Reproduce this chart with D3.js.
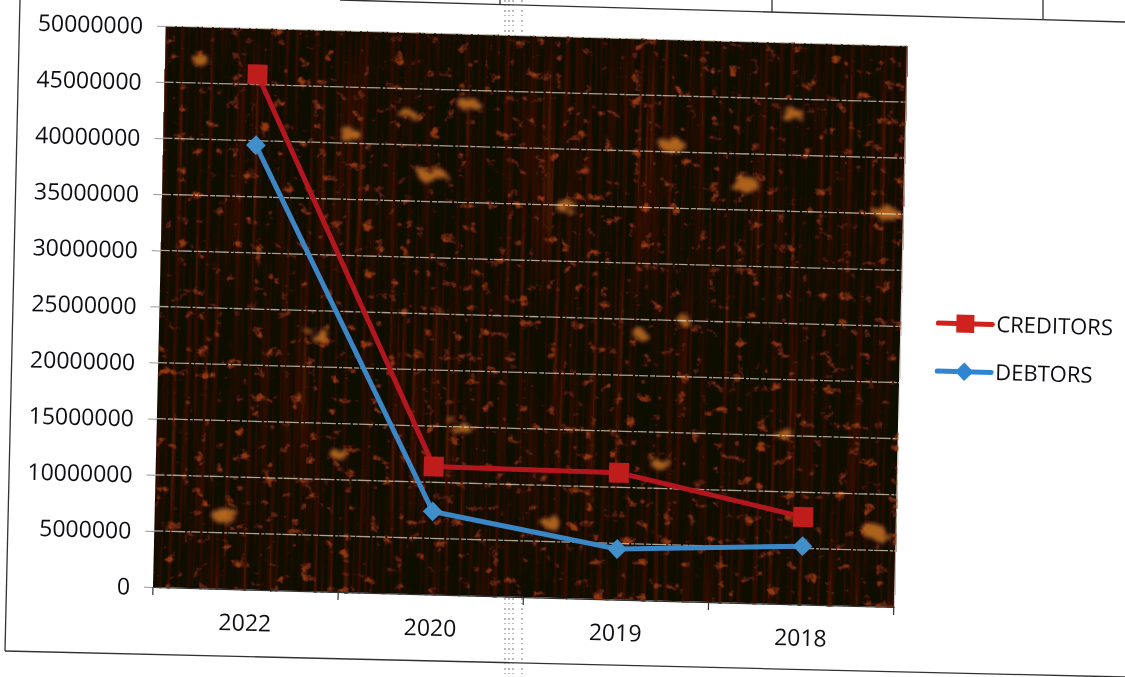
<!DOCTYPE html>
<html>
<head>
<meta charset="utf-8">
<script src="https://cdn.jsdelivr.net/npm/d3@7"></script>
<style>
  html, body { margin: 0; background: #fff; overflow: hidden; }
  svg { display: block; }
  text { font-family: "Open Sans", sans-serif; fill: #111113; }
</style>
</head>
<body>
<svg id="chart" width="1125" height="677"></svg>
<script>
const categories = ['2022', '2020', '2019', '2018'];
const creditors = [45900000, 11400000, 11300000, 7800000];
const debtors = [39600000, 7400000, 4500000, 5200000];
const yTicks = [0, 5000000, 10000000, 15000000, 20000000, 25000000, 30000000, 35000000, 40000000, 45000000, 50000000];
const seriesNames = ['CREDITORS', 'DEBTORS'];

// bright patches of the picture behind the plot, page x / page y / size
const patchX = [470, 350, 432, 672, 793, 745, 565, 885, 225, 340, 460, 660, 785, 550, 875, 320, 640, 685, 408, 200];
const patchY = [105, 135, 175, 145, 115, 185, 205, 212, 515, 455, 428, 463, 435, 522, 532, 335, 335, 320, 115, 60];
const patchR = [11, 11, 14, 13, 12, 15, 11, 12, 14, 10, 10, 11, 9, 10, 12, 11, 8, 7, 9, 9];

const width = 741, height = 561;
const svg = d3.select('#chart');
const defs = svg.append('defs');

// scan softness
defs.append('filter').attr('id', 'soft')
  .append('feGaussianBlur').attr('stdDeviation', 0.4);

// orange flecks
const fleck = defs.append('filter').attr('id', 'fleck')
  .attr('x', 0).attr('y', 0).attr('width', 1).attr('height', 1)
  .attr('color-interpolation-filters', 'sRGB');
fleck.append('feTurbulence').attr('type', 'fractalNoise')
  .attr('baseFrequency', '0.075 0.085').attr('numOctaves', 4).attr('seed', 23);
fleck.append('feColorMatrix').attr('type', 'matrix')
  .attr('values', '0 0 0 0 0.58  0 0 0 0 0.22  0 0 0 0 0.05  5 0 0 0 -3.2');
fleck.append('feGaussianBlur').attr('stdDeviation', 0.7);

// red vertical streaks
const streak = defs.append('filter').attr('id', 'streak')
  .attr('x', 0).attr('y', 0).attr('width', 1).attr('height', 1)
  .attr('color-interpolation-filters', 'sRGB');
streak.append('feTurbulence').attr('type', 'fractalNoise')
  .attr('baseFrequency', '0.2 0.004').attr('numOctaves', 2).attr('seed', 4);
streak.append('feColorMatrix').attr('type', 'matrix')
  .attr('values', '0 0 0 0 0.30  0 0 0 0 0.09  0 0 0 0 0.02  2.4 0 0 0 -1.1');

// rough edge for the big patches
const rough = defs.append('filter').attr('id', 'rough')
  .attr('x', '-60%').attr('y', '-60%').attr('width', '220%').attr('height', '220%')
  .attr('color-interpolation-filters', 'sRGB');
rough.append('feTurbulence').attr('type', 'fractalNoise')
  .attr('baseFrequency', 0.09).attr('numOctaves', 2).attr('seed', 7).attr('result', 'n');
rough.append('feDisplacementMap').attr('in', 'SourceGraphic').attr('in2', 'n')
  .attr('scale', 16);
rough.append('feGaussianBlur').attr('stdDeviation', 2);

const page = svg.append('g').attr('filter', 'url(#soft)');

// the scan is tilted, everything of the chart sits in this frame
const tilt = 'matrix(0.9997,0.027,-0.0232,1,166,26)';

// scanned page rules
const rules = [
  [[20, 0], [5, 651]],
  [[5, 651], [1125, 677]],
  [[340, 0], [1125, 22]],
  [[500, 0], [500, 5]],
  [[772, 0], [772, 12]],
  [[1043, 0], [1043, 19]]
];
page.append('g').selectAll('line').data(rules).join('line')
  .attr('x1', d => d[0][0]).attr('y1', d => d[0][1])
  .attr('x2', d => d[1][0]).attr('y2', d => d[1][1])
  .attr('stroke', '#333').attr('stroke-width', 1.3);

// photocopy streak down the fold
[505, 509, 513, 522].forEach(x => {
  [[0, 36], [598, 677]].forEach(([a, b]) => {
    page.append('line')
      .attr('x1', x).attr('x2', x).attr('y1', a).attr('y2', b)
      .attr('stroke', '#777').attr('stroke-width', 1)
      .attr('stroke-dasharray', '2 3 1 4');
  });
});

const plotBack = page.append('g').attr('transform', tilt);
plotBack.append('rect').attr('width', width).attr('height', height).attr('fill', '#110705');
plotBack.append('rect').attr('width', width).attr('height', height).attr('filter', 'url(#streak)');
plotBack.append('rect').attr('width', width).attr('height', height).attr('filter', 'url(#fleck)');

page.append('g').selectAll('ellipse').data(patchX).join('ellipse')
  .attr('cx', d => d)
  .attr('cy', (d, i) => patchY[i])
  .attr('rx', (d, i) => patchR[i])
  .attr('ry', (d, i) => patchR[i] * 0.55)
  .attr('fill', '#bd6c22')
  .attr('opacity', 0.9)
  .attr('filter', 'url(#rough)');

const g = page.append('g').attr('transform', tilt);

const x = d3.scaleBand().domain(categories).range([0, width]);
const y = d3.scaleLinear().domain([0, 50000000]).range([height, 0]);

// gridlines
g.append('g').selectAll('line').data(yTicks.filter(d => d > 0)).join('line')
  .attr('x1', 0).attr('x2', width)
  .attr('y1', d => y(d)).attr('y2', d => y(d))
  .attr('stroke', '#e6e2c8').attr('stroke-width', 1.3).attr('opacity', 0.7)
  .attr('stroke-dasharray', '9 2 5 1 14 2 3 1');

// y axis
const yAxis = g.append('g')
  .call(d3.axisLeft(y).tickValues(yTicks).tickFormat(d3.format('d')).tickSize(9).tickPadding(14));
yAxis.select('.domain').remove();
yAxis.selectAll('line').attr('stroke', '#999');
yAxis.selectAll('text').attr('font-size', 23).attr('dy', '0.34em');

// x axis, ticks between the categories
const xAxis = g.append('g').attr('transform', `translate(0,${height})`)
  .call(d3.axisBottom(x).tickSize(0).tickPadding(25));
xAxis.select('.domain').attr('stroke', '#333').attr('stroke-width', 1.2);
xAxis.selectAll('text').attr('font-size', 23);
g.append('g').attr('transform', `translate(0,${height})`)
  .selectAll('line').data(d3.range(categories.length + 1)).join('line')
  .attr('x1', d => d * x.step()).attr('x2', d => d * x.step())
  .attr('y1', 0).attr('y2', 8)
  .attr('stroke', '#333').attr('stroke-width', 1.2);

const line = d3.line()
  .x((d, i) => x(categories[i]) + x.bandwidth() / 2)
  .y(d => y(d));

const squareMark = d3.symbol(d3.symbolSquare, 20 * 20);
const diamondMark = d3.symbol(d3.symbolSquare, 14 * 14);

function drawSeries(values, color, markColor, mark, turn) {
  g.append('path').datum(values)
    .attr('d', line)
    .attr('fill', 'none')
    .attr('stroke', color)
    .attr('stroke-width', 5);
  g.append('g').selectAll('path').data(values).join('path')
    .attr('d', mark)
    .attr('fill', markColor)
    .attr('transform', (d, i) =>
      `translate(${x(categories[i]) + x.bandwidth() / 2},${y(d)}) rotate(${turn})`);
}

drawSeries(creditors, '#b3181c', '#bf1a1e', squareMark, 0);
drawSeries(debtors, '#3a86c4', '#3f8fcb', diamondMark, 45);

// legend
const legendRows = [
  { name: seriesNames[0], color: '#d0231f', mark: d3.symbol(d3.symbolSquare, 18 * 18), turn: 0, top: 276 },
  { name: seriesNames[1], color: '#2f86d2', mark: d3.symbol(d3.symbolSquare, 13 * 13), turn: 45, top: 324 }
];
const legend = g.append('g').selectAll('g').data(legendRows).join('g')
  .attr('transform', d => `translate(779,${d.top})`);
legend.append('line')
  .attr('x1', 0).attr('x2', 54)
  .attr('stroke', d => d.color).attr('stroke-width', 5).attr('stroke-linecap', 'round');
legend.append('path')
  .attr('d', d => d.mark())
  .attr('fill', d => d.color)
  .attr('transform', d => `translate(27,0) rotate(${d.turn})`);
legend.append('text')
  .attr('x', 58).attr('dy', '0.34em')
  .attr('font-size', 22)
  .text(d => d.name);
</script>
</body>
</html>
